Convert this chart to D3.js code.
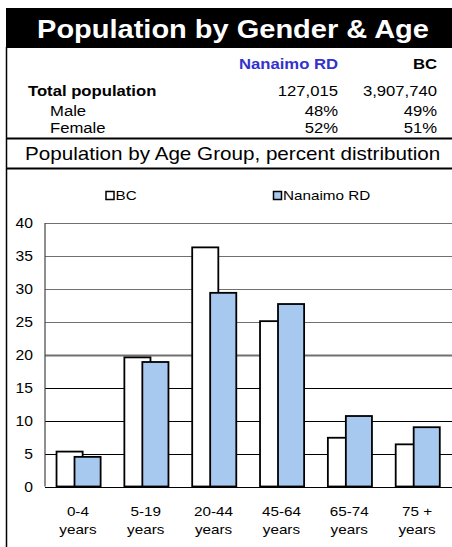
<!DOCTYPE html>
<html>
<head>
<meta charset="utf-8">
<script src="https://cdn.jsdelivr.net/npm/d3@7"></script>
<style>
html,body{margin:0;padding:0;background:#fff;}
svg{display:block;font-family:"Liberation Sans",Arial,sans-serif;}
</style>
</head>
<body>
<div id="chart"></div>
<script>
// ---- data ----
const title = "Population by Gender & Age";
const subtitle = "Population by Age Group, percent distribution";
const tableHeaders = ["Nanaimo RD", "BC"];
const tableRows = ["Total population", "Male", "Female"];
const nanaimoValues = ["127,015", "48%", "52%"];
const bcValues = ["3,907,740", "49%", "51%"];

const ageGroups = [["0-4","years"],["5-19","years"],["20-44","years"],["45-64","years"],["65-74","years"],["75 +","years"]];
const seriesNames = ["BC", "Nanaimo RD"];
const bcPct = [5.3, 19.6, 36.3, 25.1, 7.4, 6.4];
const nanaimoPct = [4.5, 18.9, 29.4, 27.7, 10.7, 9.0];
const yTicks = [0, 5, 10, 15, 20, 25, 30, 35, 40];

// ---- layout ----
const W = 452, H = 547, SX = 1.15;
const svg = d3.select("#chart").append("svg").attr("width", W).attr("height", H);

function txt(x, y, s, o = {}) {
  return svg.append("text")
    .attr("transform", `translate(${x},${y}) scale(${o.sx || SX},1)`)
    .attr("text-anchor", o.anchor || "start")
    .attr("font-size", o.size || 14)
    .attr("font-weight", o.bold ? "bold" : "normal")
    .attr("fill", o.fill || "#000")
    .text(s);
}

// title bar
svg.append("rect").attr("x", 6).attr("y", 8).attr("width", W - 6).attr("height", 40).attr("fill", "#000");
txt(233, 38, title, {anchor: "middle", size: 25, bold: true, fill: "#fff", sx: 1.16});

// left border
svg.append("line").attr("x1", 6.5).attr("x2", 6.5).attr("y1", 47).attr("y2", H).attr("stroke", "#000").attr("stroke-width", 1.5);

// table
const colX = [338, 437];
txt(colX[0], 69, tableHeaders[0], {anchor: "end", size: 14.5, bold: true, fill: "#3333cc"});
txt(colX[1], 69, tableHeaders[1], {anchor: "end", size: 14.5, bold: true});
const rowY = [95.5, 115.5, 132.5];
tableRows.forEach((r, i) => {
  txt(i === 0 ? 28 : 50, rowY[i], r, {size: 14.5, bold: i === 0});
  txt(colX[0], rowY[i], nanaimoValues[i], {anchor: "end", size: 14.5});
  txt(colX[1], rowY[i], bcValues[i], {anchor: "end", size: 14.5});
});
svg.append("line").attr("x1", 6).attr("x2", W).attr("y1", 138.5).attr("y2", 138.5).attr("stroke", "#000").attr("stroke-width", 2);
txt(25, 159.5, subtitle, {size: 17.5, sx: 1.18});
svg.append("line").attr("x1", 6).attr("x2", W).attr("y1", 168.5).attr("y2", 168.5).attr("stroke", "#000").attr("stroke-width", 2);

// chart
const x = d3.scaleBand().domain(d3.range(ageGroups.length)).range([45, 452]).paddingInner(0).paddingOuter(0);
const y = d3.scaleLinear().domain([0, 40]).range([486.5, 223]);
const bw = x.bandwidth();

// gridlines
yTicks.forEach(t => {
  const yy = Math.round(y(t)) + 0.5;
  let col = t === 0 || t < 20 ? "#000" : "#707070";
  svg.append("line").attr("x1", 45).attr("x2", W).attr("y1", yy).attr("y2", yy)
    .attr("stroke", col).attr("stroke-width", t === 20 ? 1.8 : 1.1);
  txt(33, y(t) + 5, String(t), {anchor: "end", size: 14, sx: 1.12});
});
svg.append("line").attr("x1", 45).attr("x2", 45).attr("y1", y(40)).attr("y2", y(0)).attr("stroke", "#444").attr("stroke-width", 1.2);

// bars
const g = svg.append("g");
g.selectAll("rect.bc").data(bcPct).join("rect").attr("class", "bc")
  .attr("x", (d, i) => x(i) + bw * 0.17).attr("width", bw * 0.385)
  .attr("y", d => y(d)).attr("height", d => y(0) - y(d))
  .attr("fill", "#fff").attr("stroke", "#000").attr("stroke-width", 1.8);
g.selectAll("rect.nr").data(nanaimoPct).join("rect").attr("class", "nr")
  .attr("x", (d, i) => x(i) + bw * 0.435).attr("width", bw * 0.385)
  .attr("y", d => y(d)).attr("height", d => y(0) - y(d))
  .attr("fill", "#a7c9ef").attr("stroke", "#000").attr("stroke-width", 1.8);

// x labels
ageGroups.forEach((lab, i) => {
  const cx = x(i) + bw / 2 - 1;
  txt(cx, 515.5, lab[0], {anchor: "middle", size: 13.5, sx: 1.13});
  txt(cx, 533.5, lab[1], {anchor: "middle", size: 13.5, sx: 1.13});
});

// legend
const legX = [106, 273.5];
const legFill = ["#fff", "#a7c9ef"];
seriesNames.forEach((s, i) => {
  svg.append("rect").attr("x", legX[i]).attr("y", 191.5).attr("width", 8).attr("height", 8)
    .attr("fill", legFill[i]).attr("stroke", "#000").attr("stroke-width", 1.5);
  txt(legX[i] + 9.5, 200, s, {size: 13.5, sx: 1.13});
});
</script>
</body>
</html>
